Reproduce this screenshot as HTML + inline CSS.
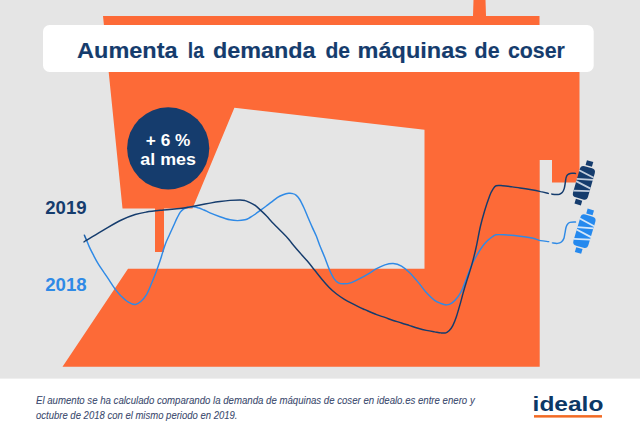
<!DOCTYPE html>
<html><head><meta charset="utf-8"><style>
html,body{margin:0;padding:0;}
body{width:640px;height:434px;overflow:hidden;background:#fff;position:relative;font-family:"Liberation Sans",sans-serif;}
svg{position:absolute;left:0;top:0;}
</style></head><body>
<svg width="640" height="434" viewBox="0 0 640 434">
<rect x="0" y="0" width="640" height="378.6" fill="#e5e5e5"/>
<path d="M103,16 L473,16 L473.5,0 L485.5,0 L486,16 L539.5,16 L539.5,40 L579.5,40 L579.5,182.5 L552,182.5 L552,160 L539.7,160 L539.7,366.8 L62.5,366.8 L128,268.8 L424.5,268.8 L424.5,129.7 L234.4,107.8 L192.5,208.5 L164,208.5 L164,252 L155,252 L155,208.5 L122.5,208.5 Z" fill="#fd6a37"/>
<rect x="43" y="25.1" width="550.7" height="46.9" rx="6.5" fill="#fff"/>
<g font-family="Liberation Sans" font-weight="bold" font-size="22.4" fill="#153c6d" stroke="#153c6d" stroke-width="0.15"><text x="77.1" y="58.2" textLength="100.51" lengthAdjust="spacingAndGlyphs">Aumenta</text><text x="187.79" y="58.2" textLength="16.14" lengthAdjust="spacingAndGlyphs">la</text><text x="212.9" y="58.2" textLength="102.6" lengthAdjust="spacingAndGlyphs">demanda</text><text x="325.38" y="58.2" textLength="24.62" lengthAdjust="spacingAndGlyphs">de</text><text x="357.59" y="58.2" textLength="109.72" lengthAdjust="spacingAndGlyphs">máquinas</text><text x="474.57" y="58.2" textLength="24.97" lengthAdjust="spacingAndGlyphs">de</text><text x="507.88" y="58.2" textLength="56.95" lengthAdjust="spacingAndGlyphs">coser</text></g>
<circle cx="168.2" cy="148.35" r="41.1" fill="#153c6d"/>
<text x="145.8" y="145.8" font-family="Liberation Sans" font-weight="bold" font-size="17" fill="#fff" textLength="44.5" lengthAdjust="spacingAndGlyphs">+ 6 %</text>
<text x="140.3" y="164.6" font-family="Liberation Sans" font-weight="bold" font-size="17" fill="#fff" textLength="55.7" lengthAdjust="spacingAndGlyphs">al mes</text>
<text x="45.2" y="213.8" font-family="Liberation Sans" font-weight="bold" font-size="18" fill="#153c6d" textLength="41.4" lengthAdjust="spacingAndGlyphs">2019</text>
<text x="45.2" y="290.9" font-family="Liberation Sans" font-weight="bold" font-size="18" fill="#2f8ae6" textLength="41.4" lengthAdjust="spacingAndGlyphs">2018</text>
<g fill="none" stroke-linecap="round" stroke-linejoin="round">
<path d="M84.6,235.5 C85.4,237.3 87.7,243.2 89.2,246.6 C90.7,250.0 92.3,252.9 93.8,255.8 C95.3,258.7 96.7,261.3 98.4,264.1 C100.1,266.9 102.1,269.6 103.9,272.4 C105.8,275.1 107.7,277.9 109.5,280.6 C111.3,283.4 113.2,286.4 115.0,288.9 C116.8,291.4 118.3,293.2 120.5,295.4 C122.7,297.5 125.4,300.3 127.9,301.8 C130.4,303.3 133.3,304.6 135.5,304.5 C137.7,304.4 139.0,303.1 140.8,301.5 C142.6,299.9 144.7,297.7 146.5,294.6 C148.3,291.5 150.1,286.9 151.7,283.0 C153.3,279.1 154.9,275.3 156.3,271.5 C157.7,267.7 159.2,263.1 160.3,260.0 C161.4,256.9 161.7,255.4 162.6,252.6 C163.5,249.8 164.4,246.5 165.6,243.4 C166.8,240.3 168.3,237.3 169.7,234.2 C171.1,231.1 172.7,227.7 173.9,225.0 C175.1,222.3 175.9,220.3 177.0,218.2 C178.1,216.1 179.2,213.8 180.3,212.2 C181.4,210.6 182.5,209.6 183.8,208.8 C185.1,208.0 186.5,207.7 188.0,207.3 C189.5,207.0 191.3,206.6 193.0,206.7 C194.7,206.8 196.2,207.1 198.0,207.7 C199.8,208.2 202.0,209.2 204.0,210.0 C206.0,210.8 207.3,211.7 210.0,212.8 C212.7,213.9 216.7,215.5 220.0,216.7 C223.3,217.9 227.1,219.2 230.0,219.8 C232.9,220.5 235.0,220.6 237.5,220.6 C240.0,220.6 242.9,220.3 245.0,219.8 C247.1,219.3 248.2,218.5 250.0,217.5 C251.8,216.5 253.7,215.3 255.5,214.0 C257.3,212.7 259.1,211.3 261.0,209.9 C262.9,208.5 264.8,207.1 266.6,205.7 C268.5,204.3 270.3,203.0 272.1,201.6 C273.9,200.2 275.8,198.6 277.6,197.4 C279.4,196.2 281.2,195.4 283.1,194.7 C285.0,194.0 287.1,193.5 288.7,193.3 C290.3,193.1 291.5,193.2 292.8,193.6 C294.1,193.9 295.2,194.4 296.3,195.4 C297.4,196.4 298.4,197.4 299.7,199.5 C301.0,201.6 302.5,204.8 303.9,207.8 C305.3,210.8 306.6,214.3 308.0,217.5 C309.4,220.7 310.8,224.0 312.2,227.1 C313.6,230.2 315.0,232.9 316.3,236.1 C317.6,239.3 318.6,242.6 320.0,246.1 C321.4,249.6 323.1,253.3 324.6,257.1 C326.1,260.9 327.7,265.6 329.2,269.1 C330.7,272.6 332.2,276.0 333.8,278.3 C335.4,280.6 336.8,282.0 338.5,282.9 C340.2,283.8 341.9,283.9 344.0,283.8 C346.1,283.8 348.9,283.4 351.4,282.6 C353.8,281.8 355.9,280.7 358.7,279.2 C361.5,277.7 365.3,275.6 368.3,273.8 C371.3,272.1 373.8,270.2 376.6,268.7 C379.4,267.2 382.1,265.8 384.9,264.9 C387.7,264.0 390.4,263.3 393.2,263.5 C396.0,263.7 398.8,264.6 401.5,266.2 C404.2,267.8 406.9,270.1 409.7,272.8 C412.4,275.5 415.2,278.8 418.0,282.1 C420.8,285.4 423.5,289.5 426.3,292.5 C429.1,295.5 432.2,298.5 434.6,300.3 C437.1,302.1 439.0,302.7 441.0,303.5 C443.0,304.3 444.8,305.0 446.6,304.9 C448.5,304.8 450.3,304.1 452.1,302.8 C453.9,301.5 456.0,299.4 457.6,297.3 C459.2,295.2 460.5,293.1 461.8,290.4 C463.1,287.7 463.9,285.1 465.5,281.0 C467.1,276.9 469.4,270.3 471.3,266.0 C473.2,261.7 475.1,258.2 477.0,255.0 C478.9,251.8 480.5,249.0 482.4,246.5 C484.2,244.0 486.4,241.8 488.1,240.1 C489.9,238.4 491.6,237.3 492.9,236.4 C494.2,235.5 494.2,235.1 496.1,234.8 C498.0,234.5 500.2,234.6 504.2,234.8 C508.2,235.1 515.2,235.7 520.0,236.3 C524.8,236.9 529.6,237.6 533.0,238.3 C536.4,239.0 538.0,240.1 540.6,240.6 C543.2,241.1 547.4,241.4 548.7,241.6" stroke="#2f8ae6" stroke-width="1.45"/>
<path d="M552.4,242.9 C553.2,243.0 556.0,243.6 557.5,243.4 C559.0,243.2 560.4,242.8 561.4,242.0 C562.4,241.2 563.2,240.0 563.8,238.6 C564.4,237.2 564.5,235.2 564.9,233.4 C565.3,231.6 565.6,229.0 566.0,227.5 C566.4,226.0 566.8,225.0 567.5,224.2 C568.2,223.3 568.7,222.8 570.0,222.4 C571.3,222.0 574.6,222.1 575.5,222.0" stroke="#2f8ae6" stroke-width="1.45"/>
<path d="M84.0,241.9 C84.2,241.8 83.6,242.0 85.2,241.0 C86.8,240.0 90.1,238.1 93.8,235.9 C97.5,233.7 103.0,230.2 107.6,227.6 C112.2,224.9 116.8,222.2 121.4,220.0 C126.0,217.8 131.0,215.8 135.2,214.5 C139.4,213.2 141.9,212.8 146.6,212.0 C151.3,211.2 157.6,210.6 163.2,210.0 C168.8,209.4 175.5,209.0 180.0,208.5 C184.5,208.0 186.7,207.5 190.0,206.9 C193.3,206.3 196.7,205.6 200.0,205.0 C203.3,204.4 206.7,203.7 210.0,203.1 C213.3,202.5 216.7,201.9 220.0,201.5 C223.3,201.1 226.7,200.7 230.0,200.4 C233.3,200.2 237.5,200.0 240.0,200.0 C242.5,200.0 243.3,200.2 245.0,200.6 C246.7,201.0 248.2,201.8 250.0,202.6 C251.8,203.4 253.7,204.4 255.5,205.7 C257.3,207.0 259.1,208.9 261.0,210.6 C262.9,212.3 264.8,214.1 266.6,216.1 C268.5,218.1 270.3,220.4 272.1,222.3 C273.9,224.2 275.8,226.0 277.6,227.8 C279.4,229.6 281.2,231.4 283.1,233.3 C285.0,235.2 287.1,237.4 288.7,239.2 C290.2,241.0 290.6,241.8 292.4,244.0 C294.2,246.2 297.2,249.7 299.7,252.5 C302.1,255.3 304.6,257.9 307.1,260.8 C309.6,263.7 312.0,266.9 314.5,270.0 C317.0,273.1 319.4,276.3 321.9,279.2 C324.3,282.1 326.8,285.0 329.2,287.5 C331.6,290.0 334.1,292.1 336.6,294.0 C339.1,295.9 341.5,297.6 344.0,299.1 C346.5,300.6 348.9,301.9 351.4,303.2 C353.8,304.5 356.4,305.8 358.7,306.9 C361.0,308.0 362.0,308.4 365.0,309.7 C368.0,311.0 373.3,313.4 376.6,314.7 C379.9,316.0 382.1,316.4 384.9,317.4 C387.7,318.4 390.4,319.6 393.2,320.5 C396.0,321.4 398.8,322.1 401.5,323.0 C404.2,323.9 406.9,324.7 409.7,325.6 C412.4,326.5 415.2,327.5 418.0,328.3 C420.8,329.1 423.5,329.8 426.3,330.4 C429.1,331.0 432.2,331.5 434.6,331.9 C437.1,332.3 439.1,332.7 441.0,332.9 C442.9,333.1 444.5,333.3 445.9,332.9 C447.3,332.5 448.1,331.6 449.3,330.4 C450.5,329.2 451.7,327.8 452.8,325.6 C453.9,323.4 455.1,320.6 456.2,317.3 C457.3,314.0 458.5,309.6 459.7,305.6 C460.9,301.6 462.0,297.1 463.1,293.1 C464.2,289.1 465.2,285.9 466.6,281.4 C468.0,276.9 469.8,271.7 471.4,266.1 C473.0,260.5 474.5,254.7 476.0,248.0 C477.5,241.3 479.0,232.3 480.5,226.0 C482.0,219.7 483.3,215.4 484.8,210.3 C486.3,205.2 488.4,199.2 489.7,195.7 C491.0,192.2 491.8,191.0 492.9,189.3 C494.0,187.6 494.5,186.3 496.1,185.7 C497.7,185.1 499.9,185.5 502.6,185.7 C505.3,185.9 509.4,186.5 512.3,186.9 C515.2,187.3 517.0,187.6 520.0,188.0 C523.0,188.4 526.6,188.9 530.0,189.5 C533.4,190.1 537.6,190.9 540.6,191.6 C543.6,192.2 547.0,193.1 548.3,193.4" stroke="#153c6d" stroke-width="1.45"/>
<path d="M551.8,194.1 C552.5,194.2 554.7,194.6 556.0,194.6 C557.3,194.6 558.5,194.5 559.5,194.2 C560.5,193.8 561.4,193.4 562.2,192.5 C563.0,191.6 563.7,190.2 564.2,188.6 C564.7,187.0 565.0,184.5 565.3,182.7 C565.6,180.9 565.7,178.9 566.1,177.6 C566.5,176.3 566.9,175.5 567.6,174.8 C568.3,174.1 568.9,173.6 570.2,173.4 C571.5,173.2 574.6,173.4 575.5,173.4" stroke="#153c6d" stroke-width="1.5"/>
<line x1="84.2" y1="235" x2="86.6" y2="240.5" stroke="#153c6d" stroke-width="1.3" stroke-opacity="0.55"/>
</g>
<g transform="translate(583.9,182.8) rotate(16)" fill="#153c6d"><rect x="-3.3" y="-22.6" width="6.6" height="5.0"/><rect x="-7.8" y="-16.2" width="15.6" height="32.4" rx="4"/><rect x="-3.3" y="17.6" width="6.6" height="5.0"/><g stroke="#c3cedd" stroke-width="1.8" fill="none"><line x1="-8" y1="-10.8" x2="8" y2="-7.6"/><line x1="-8" y1="-1.8" x2="8" y2="-5.4"/><line x1="-8" y1="0.6" x2="8" y2="3.8"/><line x1="-8" y1="10.4" x2="8" y2="6.4"/></g></g>
<g transform="translate(584.4,231.2) rotate(16.5)" fill="#2589ee"><rect x="-3.3" y="-22.6" width="6.6" height="5.0"/><rect x="-7.8" y="-16.2" width="15.6" height="32.4" rx="4"/><rect x="-3.3" y="17.6" width="6.6" height="5.0"/><g stroke="#d3e7fb" stroke-width="1.8" fill="none"><line x1="-8" y1="-10.8" x2="8" y2="-7.6"/><line x1="-8" y1="-1.8" x2="8" y2="-5.4"/><line x1="-8" y1="0.6" x2="8" y2="3.8"/><line x1="-8" y1="10.4" x2="8" y2="6.4"/></g></g>
<text x="532.6" y="410.9" font-family="Liberation Sans" font-weight="bold" font-size="19.8" fill="#0c3866" textLength="70.8" lengthAdjust="spacingAndGlyphs">idealo</text>
<g font-family="Liberation Sans" font-style="italic" font-size="10.8" fill="#3b4a6e" stroke="#3b4a6e" stroke-width="0.08">
<text x="36" y="403.8" textLength="438.7" lengthAdjust="spacingAndGlyphs">El aumento se ha calculado comparando la demanda de máquinas de coser en idealo.es entre enero y</text>
<text x="36" y="419.1" textLength="201.5" lengthAdjust="spacingAndGlyphs">octubre de 2018 con el mismo periodo en 2019.</text>
</g>
<rect x="534" y="415.1" width="68" height="2.5" fill="#f26a23"/>
</svg>

</body></html>
